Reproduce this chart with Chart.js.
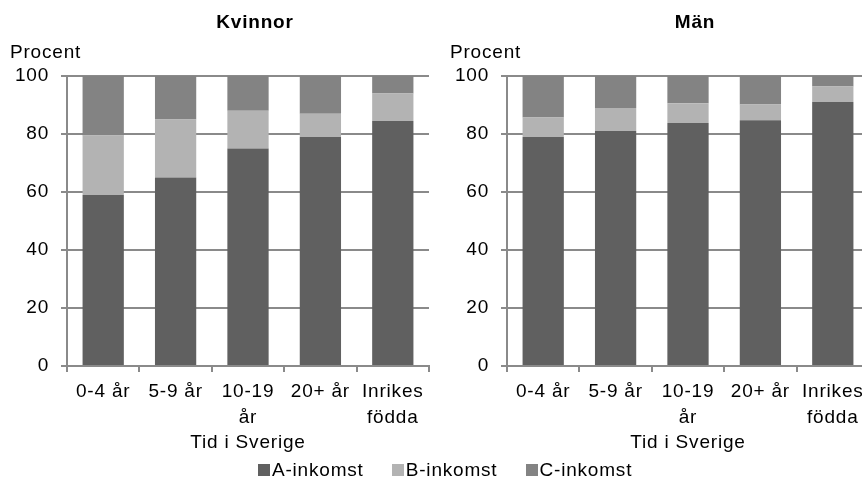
<!DOCTYPE html>
<html>
<head>
<meta charset="utf-8">
<script src="https://cdn.jsdelivr.net/npm/chart.js@4/dist/chart.umd.min.js"></script>
<style>
  body { margin: 0; width: 862px; height: 484px; overflow: hidden; background: #fff; position: relative; }
  #left { position: absolute; left: 0; top: 0; }
  #right { position: absolute; left: 431px; top: 0; }
  .legend { position: absolute; left: 258px; top: 459px; white-space: nowrap;
    font: 19px "Liberation Sans", Arial, sans-serif; letter-spacing: 0.8px; color: #000; }
  .legend span { display: inline-block; margin-right: 22px; }
  .legend i { display: inline-block; width: 12px; height: 12px; margin-right: 2px; }
</style>
</head>
<body>
<canvas id="left" width="431" height="484"></canvas>
<canvas id="right" width="440" height="484"></canvas>
<div class="legend">
  <span><i style="background:#606060"></i>A-inkomst</span>
  <span><i style="background:#b3b3b3"></i>B-inkomst</span>
  <span><i style="background:#838383"></i>C-inkomst</span>
</div>
<script>
const categories = ["0-4 år", "5-9 år", ["10-19", "år"], "20+ år", ["Inrikes", "födda"]];
const yTicks = [0, 20, 40, 60, 80, 100];

const kvinnorA = [59, 65, 75, 79, 84.5];
const kvinnorB = [20.5, 20, 13, 8, 9.5];
const kvinnorC = [20.5, 15, 12, 13, 6];

const manA = [79, 81, 83.8, 84.7, 91];
const manB = [6.7, 8, 6.8, 5.5, 5.4];
const manC = [14.3, 11, 9.4, 9.8, 3.6];

const gridColor = "#8a8a8a";
const font = "'Liberation Sans', Arial, sans-serif";

// the original text is a bit wider than plain Arial, so space the letters out a little
const spacing = {
  id: "spacing",
  beforeLayout(chart) { chart.ctx.letterSpacing = "0.8px"; },
  beforeDraw(chart) { chart.ctx.letterSpacing = "0.8px"; },
};

const headings = {
  id: "headings",
  afterDraw(chart, args, opts) {
    const ctx = chart.ctx;
    const area = chart.chartArea;
    ctx.save();
    ctx.fillStyle = "#000";
    ctx.textBaseline = "middle";
    ctx.textAlign = "center";
    ctx.font = "bold 19px " + font;
    ctx.fillText(opts.text, (area.left + area.right) / 2 + 7, 23);
    ctx.textAlign = "left";
    ctx.font = "19px " + font;
    ctx.fillText("Procent", area.left - 57, 53);
    ctx.restore();
  }
};

function makeChart(id, title, a, b, c, padLeft) {
  new Chart(document.getElementById(id), {
    type: "bar",
    data: {
      labels: categories,
      datasets: [
        { label: "A-inkomst", data: a, backgroundColor: "#606060" },
        { label: "B-inkomst", data: b, backgroundColor: "#b3b3b3" },
        { label: "C-inkomst", data: c, backgroundColor: "#838383" },
      ],
    },
    options: {
      responsive: false,
      animation: false,
      layout: { padding: { top: 76, left: padLeft, right: 2, bottom: 28 } },
      datasets: { bar: { barPercentage: 0.57, categoryPercentage: 1 } },
      plugins: {
        legend: { display: false },
        tooltip: { enabled: false },
        headings: { text: title },
      },
      scales: {
        x: {
          stacked: true,
          afterFit: (scale) => { scale.height = 90; },
          grid: { drawOnChartArea: false, drawTicks: true, tickLength: 6, color: gridColor, lineWidth: 2 },
          border: { display: true, color: gridColor, width: 2 },
          ticks: { color: "#000", padding: 7, maxRotation: 0, autoSkip: false,
            font: { family: font, size: 19, lineHeight: 1.35 } },
          title: { display: true, text: "Tid i Sverige", color: "#000",
            font: { family: font, size: 19 }, padding: { top: 0, bottom: 2 } },
        },
        y: {
          stacked: true,
          min: 0,
          max: 100,
          afterFit: (scale) => { scale.width = 67; },
          afterBuildTicks: (scale) => { scale.ticks = yTicks.map((v) => ({ value: v })); },
          grid: { color: gridColor, lineWidth: 2, tickLength: 6 },
          border: { display: true, color: gridColor, width: 2 },
          ticks: { color: "#000", padding: 12, font: { family: font, size: 19 } },
        },
      },
    },
    plugins: [spacing, headings],
  });
}

makeChart("left", "Kvinnor", kvinnorA, kvinnorB, kvinnorC, 0);
makeChart("right", "Män", manA, manB, manC, 9);
</script>
</body>
</html>
